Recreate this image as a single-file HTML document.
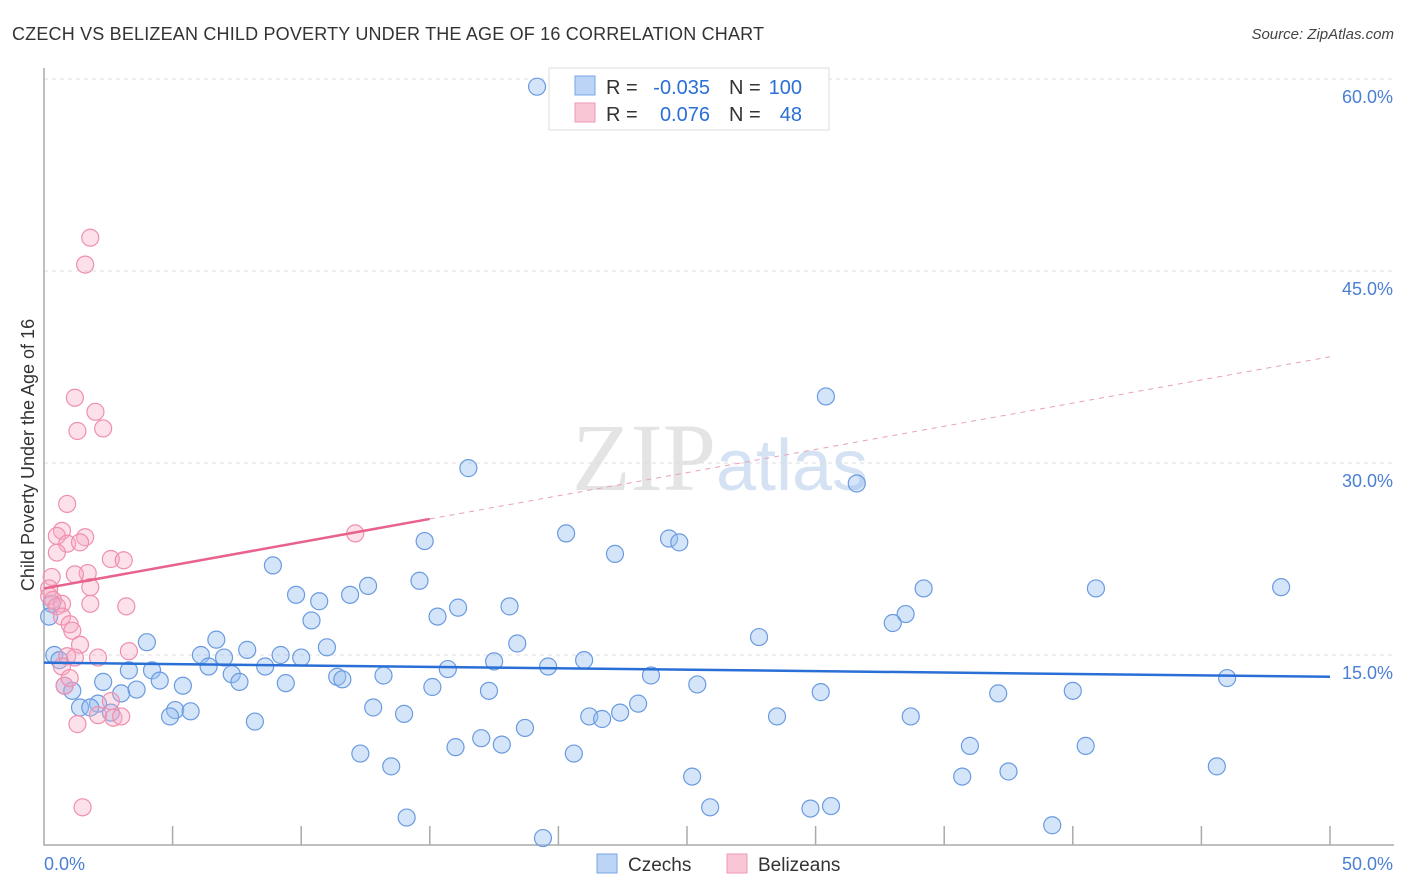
<!DOCTYPE html>
<html><head><meta charset="utf-8"><style>
body{margin:0;background:#fff;font-family:"Liberation Sans",sans-serif;}
#wrap{position:relative;width:1406px;height:892px;overflow:hidden;}
</style></head><body>
<div id="wrap">
<svg id="svg" width="1406" height="892" xmlns="http://www.w3.org/2000/svg">
<text x="12" y="40" font-size="18" fill="#333" textLength="752">CZECH VS BELIZEAN CHILD POVERTY UNDER THE AGE OF 16 CORRELATION CHART</text>
<text x="1394" y="39" font-size="15" fill="#444" font-style="italic" text-anchor="end">Source: ZipAtlas.com</text>
<text x="720" y="490" font-size="96" fill="#e4e4e4" text-anchor="middle" font-family="Liberation Serif,serif">ZIP<tspan fill="#d4e2f4" font-family="Liberation Sans,sans-serif" font-size="72">atlas</tspan></text>
<text transform="translate(34,455) rotate(-90)" font-size="18" fill="#333" text-anchor="middle">Child Poverty Under the Age of 16</text>
<g id="grid"></g><g id="marks"></g>
</svg>
</div>
<script>
const blueX=[19.17,30.4,16.5,31.6,20.3,14.8,24.3,24.7,22.2,8.9,14.6,34.2,40.9,48.1,12.6,9.8,11.9,10.7,16.1,18.1,33.5,33.0,15.3,10.4,4.0,6.7,18.4,27.8,11.0,7.9,6.1,7.0,9.2,10.0,21.0,17.5,15.7,19.6,6.4,8.6,3.3,4.2,7.3,13.2,11.4,11.6,23.6,2.3,4.5,7.6,5.4,9.4,15.1,25.4,17.3,30.2,40.0,37.1,46.0,3.0,3.6,0.8,1.1,2.1,1.4,1.8,2.6,5.1,12.8,23.1,4.9,5.7,14.0,22.4,21.2,21.7,28.5,33.7,8.2,18.7,17.0,17.8,16.0,36.0,40.5,12.3,20.6,13.5,45.6,25.2,35.7,37.5,25.9,29.8,30.6,14.1,39.2,19.4,0.4,0.3,0.2,0.6];
const blueY=[59.4,35.2,29.6,28.4,24.5,23.9,24.1,23.8,22.9,22.0,20.8,20.2,20.2,20.3,20.4,19.7,19.7,19.2,18.7,18.8,18.2,17.5,18.0,17.7,16.0,16.2,15.9,16.4,15.6,15.4,15.0,14.8,15.0,14.8,14.6,14.5,13.9,14.1,14.1,14.1,13.8,13.8,13.5,13.4,13.3,13.1,13.4,12.9,13.0,12.9,12.6,12.8,12.5,12.7,12.2,12.1,12.2,12.0,13.2,12.0,12.3,12.6,12.2,11.2,10.9,10.9,10.5,10.7,10.9,11.2,10.2,10.6,10.4,10.5,10.2,10.0,10.2,10.2,9.8,9.3,8.5,8.0,7.8,7.9,7.9,7.3,7.3,6.3,6.3,5.5,5.5,5.9,3.1,3.0,3.2,2.3,1.7,0.7,15.0,19.0,18.0,14.6];
const pinkX=[1.8,1.6,1.2,2.0,1.3,2.3,0.9,12.1,0.7,0.5,1.6,0.9,1.4,0.5,2.6,3.1,1.7,1.2,0.3,0.2,0.2,1.8,0.35,0.7,0.5,1.8,3.2,0.7,1.0,1.1,1.4,3.3,0.9,2.1,1.2,0.7,0.8,1.0,2.6,2.7,3.0,1.3,1.5,2.1];
const pinkY=[47.6,45.5,35.1,34.0,32.5,32.7,26.8,24.5,24.7,24.3,24.2,23.7,23.8,23.0,22.5,22.4,21.4,21.3,21.1,20.2,19.6,20.3,19.3,19.0,18.8,19.0,18.8,18.0,17.4,16.9,15.8,15.3,14.9,14.8,14.8,14.1,12.6,13.2,11.4,10.1,10.2,9.6,3.1,10.3];
const blueTrend=[14.4,13.3];const pinkTrend=[20.2,38.3];const pinkSolidEnd=15;
const yTicks=[15,30,45,60];const xTickLabels=["0.0%","50.0%"];
const NS="http://www.w3.org/2000/svg";
const X=v=>44+v*25.72, Y=v=>847-v*12.8;
const grid=document.getElementById('grid'),marks=document.getElementById('marks');
function mk(p,tag,a){const e=document.createElementNS(NS,tag);for(const k in a)e.setAttribute(k,a[k]);p.appendChild(e);return e;}
yTicks.forEach(t=>{
 const l=mk(grid,'line',{x1:44,x2:1394,y1:Y(t),y2:Y(t),stroke:'#dcdcdc','stroke-dasharray':'4,4'});
 
 
 const tx=mk(grid,'text',{x:1393,y:Y(t)+24,'font-size':18,fill:'#4a7fd4','text-anchor':'end'});tx.textContent=t.toFixed(1)+'%';
 
 
});
const ax=mk(grid,'path',{d:'M44,68V845H1394',stroke:'#aaa',fill:'none','stroke-width':1.5});


for(let i=1;i<=10;i++){const t=mk(grid,'line',{x1:X(i*5),x2:X(i*5),y1:826,y2:845,stroke:'#aaa','stroke-width':1.5});
 
 }
const xl0=mk(grid,'text',{x:44,y:870,'font-size':18,fill:'#4a7fd4'});xl0.textContent=xTickLabels[0];


const xl1=mk(grid,'text',{x:1393,y:870,'font-size':18,fill:'#4a7fd4','text-anchor':'end'});xl1.textContent=xTickLabels[1];


function dots(xs,ys,fill,stroke,name){xs.forEach((v,i)=>{const c=mk(marks,'circle',{cx:X(v),cy:Y(ys[i]),r:8.5,fill:fill,stroke:stroke,'stroke-width':1.2});
 
 });}
dots(blueX,blueY,'rgba(150,190,240,0.4)','#6a9be0','czech-point');
dots(pinkX,pinkY,'rgba(245,170,195,0.35)','#ef8fae','belizean-point');
const bl=mk(marks,'line',{x1:X(0),y1:Y(blueTrend[0]),x2:X(50),y2:Y(blueTrend[1]),stroke:'#2a6fd6','stroke-width':2.5});


const pv=x=>pinkTrend[0]+(pinkTrend[1]-pinkTrend[0])*x/50;
const pl=mk(marks,'line',{x1:X(0),y1:Y(pv(0)),x2:X(pinkSolidEnd),y2:Y(pv(pinkSolidEnd)),stroke:'#e8628c','stroke-width':2.5});


const pd=mk(marks,'line',{x1:X(pinkSolidEnd),y1:Y(pv(pinkSolidEnd)),x2:X(50),y2:Y(pv(50)),stroke:'#e8a0b8','stroke-width':1,'stroke-dasharray':'5,5'});


// legend
const lg=mk(marks,'g',{});


mk(lg,'rect',{x:549,y:68,width:280,height:62,fill:'#fff',stroke:'#ddd'});
mk(lg,'rect',{x:575,y:76,width:20,height:19,fill:'#bcd4f6',stroke:'#7aa6e6'});
mk(lg,'rect',{x:575,y:103,width:20,height:19,fill:'#f9c6d6',stroke:'#ef9ab5'});
function t(x,y,s,c,anchor){const e=mk(lg,'text',{x:x,y:y,'font-size':20,fill:c,'text-anchor':anchor||'start'});e.textContent=s;return e;}
t(606,94,'R =','#333');t(710,94,'-0.035','#2a6fd6','end');t(729,94,'N =','#333');t(802,94,'100','#2a6fd6','end');
t(606,121,'R =','#333');t(710,121,'0.076','#2a6fd6','end');t(729,121,'N =','#333');t(802,121,'48','#2a6fd6','end');
// bottom legend
const bg=mk(marks,'g',{});


mk(bg,'rect',{x:597,y:854,width:20,height:19,fill:'#bcd4f6',stroke:'#7aa6e6'});
const c1=mk(bg,'text',{x:628,y:871,'font-size':19,fill:'#333'});c1.textContent='Czechs';
mk(bg,'rect',{x:727,y:854,width:20,height:19,fill:'#f9c6d6',stroke:'#ef9ab5'});
const c2=mk(bg,'text',{x:758,y:871,'font-size':19,fill:'#333'});c2.textContent='Belizeans';
</script>
</body></html>
